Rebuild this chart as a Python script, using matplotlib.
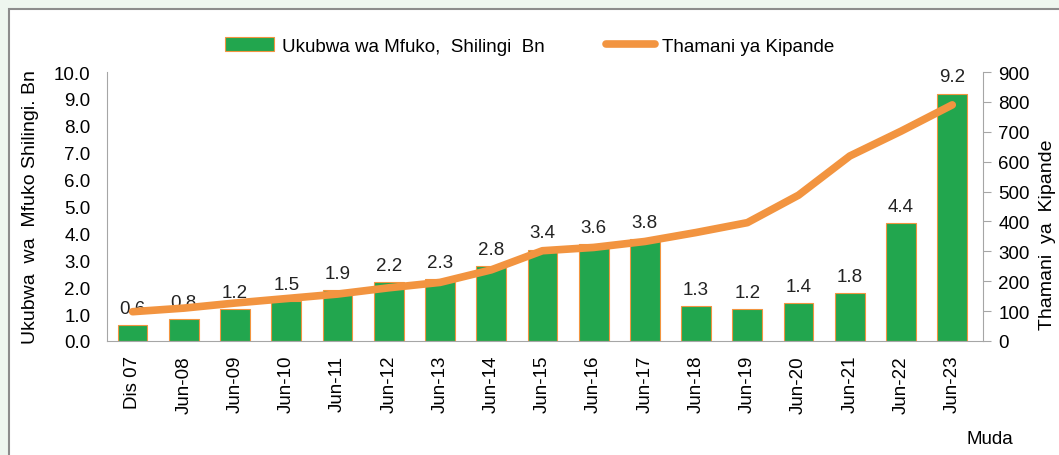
import matplotlib.pyplot as plt
from matplotlib.patches import Rectangle
import numpy as np

# data
periods = ['Dis 07', 'Jun-08', 'Jun-09', 'Jun-10', 'Jun-11', 'Jun-12', 'Jun-13',
           'Jun-14', 'Jun-15', 'Jun-16', 'Jun-17', 'Jun-18', 'Jun-19', 'Jun-20',
           'Jun-21', 'Jun-22', 'Jun-23']
fund_size = [0.6, 0.8, 1.2, 1.5, 1.9, 2.2, 2.3, 2.8, 3.4, 3.6, 3.8,
             1.3, 1.2, 1.4, 1.8, 4.4, 9.2]
unit_price = [98, 110, 127, 142, 157, 178, 196, 238, 302, 313, 333,
              363, 396, 488, 619, 702, 790]

plt.rcParams['font.family'] = ['Liberation Sans', 'DejaVu Sans']
plt.rcParams['font.size'] = 13.5

green = '#22A64E'
orange = '#F29440'
grey = '#A6A6A6'

fig = plt.figure(figsize=(10.59, 4.56), dpi=100)
fig.patch.set_facecolor('#EEF6EF')
# white chart panel with grey border
fig.patches.append(Rectangle((9 / 1059, -0.1), 1.1, 1 - 10 / 456 + 0.1,
                             transform=fig.transFigure, facecolor='white',
                             edgecolor='#8C8C8C', linewidth=1.5, zorder=-10))

ax = fig.add_axes([107 / 1059, 1 - 342 / 456, (983 - 107) / 1059, (342 - 73) / 456])
ax.set_facecolor('none')
x = np.arange(len(periods))

ax.bar(x, fund_size, width=0.58, color=green, edgecolor=orange,
       linewidth=0.8, label='Ukubwa wa Mfuko,  Shilingi  Bn', zorder=2)
for xi, v in zip(x, fund_size):
    ax.text(xi, v + 0.3, f'{v:.1f}', ha='center', va='bottom', color='#222222')

ax.set_xlim(-0.5, 16.6)
ax.set_ylim(0, 10)
ax.set_yticks(np.arange(0, 10.1, 1))
ax.set_yticklabels([f'{v:.1f}' for v in np.arange(0, 10.1, 1)])
ax.set_xticks(x)
ax.set_xticklabels(periods, rotation=90)
ax.tick_params(axis='y', length=0, pad=12)
ax.tick_params(axis='x', length=0, pad=10)
ax.spines['top'].set_visible(False)
ax.spines['right'].set_visible(False)
ax.spines['left'].set_color(grey)
ax.spines['bottom'].set_color(grey)
ax.set_ylabel('Ukubwa  wa  Mfuko Shilingi. Bn', fontsize=14)
ax.yaxis.set_label_coords(-0.078, 0.5)

ax2 = ax.twinx()
ax2.plot(x, unit_price, color=orange, linewidth=5.5, solid_capstyle='round',
         label='Thamani ya Kipande', zorder=3)
ax2.set_ylim(0, 900)
ax2.set_yticks(np.arange(0, 901, 100))
ax2.tick_params(axis='y', length=6, color=grey, pad=5)
for s in ['top', 'left', 'bottom']:
    ax2.spines[s].set_visible(False)
ax2.spines['right'].set_color(grey)
ax2.set_ylabel('Thamani  ya  Kipande', fontsize=14)
ax2.yaxis.set_label_coords(1.064, 0.4)

fig.text(990 / 1059, 1 - 440 / 456, 'Muda', ha='center', va='center')

h1, l1 = ax.get_legend_handles_labels()
h2, l2 = ax2.get_legend_handles_labels()
fig.legend(h1 + h2, l1 + l2, loc='center', bbox_to_anchor=(530 / 1059, 1 - 47 / 456),
           ncol=2, frameon=False, handlelength=2.6, handletextpad=0.4,
           columnspacing=3.3)

fig.savefig('out.png', dpi=100)
